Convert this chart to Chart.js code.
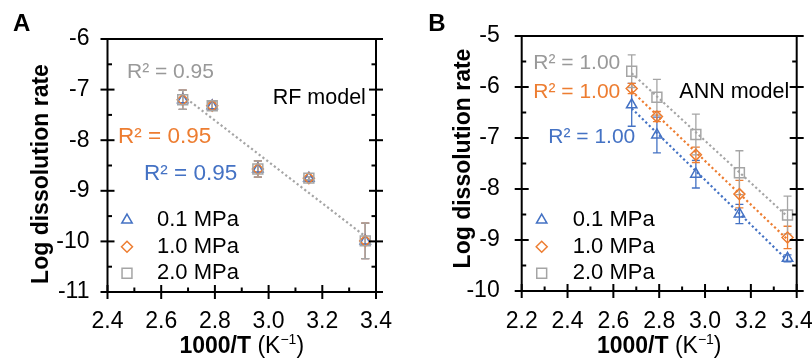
<!DOCTYPE html>
<html>
<head>
<meta charset="utf-8">
<script src="https://cdn.jsdelivr.net/npm/chart.js@4.4.1/dist/chart.umd.min.js"></script>
<style>
  html, body { margin: 0; padding: 0; background: #fff; }
  #wrap { position: relative; width: 812px; height: 361px; }
  .panel { position: absolute; top: 0; width: 406px; height: 361px; }
</style>
</head>
<body>
<div id="wrap">
  <div class="panel" style="left:0"><canvas id="chartA" width="406" height="361"></canvas></div>
  <div class="panel" style="left:406px"><canvas id="chartB" width="406" height="361"></canvas></div>
</div>
<script>
// 1000/T (K^-1) of the five temperatures
const invT = [2.68, 2.79, 2.96, 3.15, 3.36];
const seriesNames = ['0.1 MPa', '1.0 MPa', '2.0 MPa'];

// RF model: predictions for the three pressures coincide
const rfLow  = [-7.20, -7.32, -8.57, -8.75, -9.99];
const rfMid  = [-7.20, -7.32, -8.57, -8.75, -9.99];
const rfHigh = [-7.20, -7.32, -8.57, -8.75, -9.99];
const rfErr  = [0.19, 0.08, 0.16, 0.03, 0.35];
const rfFit  = [-7.12, -9.90];   // trend line at first / last 1000/T (same for all three)
const rfR2   = ['R\u00b2 = 0.95', 'R\u00b2 = 0.95', 'R\u00b2 = 0.95'];

// ANN model
const annLow     = [-6.35, -6.94, -7.71, -8.49, -9.36];
const annLowErr  = [0.42, 0.35, 0.27, 0.19, 0.07];
const annMid     = [-6.03, -6.58, -7.33, -8.10, -8.95];
const annMidErr  = [0.10, 0.10, 0.15, 0.27, 0.22];
const annHigh    = [-5.69, -6.20, -6.93, -7.68, -8.51];
const annHighErr = [0.32, 0.35, 0.40, 0.43, 0.37];
const annFitLow  = [-6.42, -9.40];
const annFitMid  = [-6.08, -8.99];
const annFitHigh = [-5.73, -8.54];
const annR2      = ['R\u00b2 = 1.00', 'R\u00b2 = 1.00', 'R\u00b2 = 1.00'];

const xTicksA = [2.4, 2.6, 2.8, 3.0, 3.2, 3.4];
const yTicksA = [-11, -10, -9, -8, -7, -6];
const xTicksB = [2.2, 2.4, 2.6, 2.8, 3.0, 3.2, 3.4];
const yTicksB = [-10, -9, -8, -7, -6, -5];

const FONT = "'Liberation Sans', Arial, Helvetica, sans-serif";
Chart.defaults.font.family = FONT;
Chart.defaults.color = '#000';

const BLUE = '#4472C4', ORANGE = '#ED7D31', GRAY = '#A5A5A5';
const styles = [
  { color: BLUE,   pointStyle: 'triangle', radius: 6,   order: 3 },
  { color: ORANGE, pointStyle: 'rectRot',  radius: 5.5, order: 2 },
  { color: GRAY,   pointStyle: 'rect',     radius: 7,   order: 1 }
];

const pts = ys => invT.map((x, i) => ({ x, y: ys[i] }));
const ends = f => [{ x: invT[0], y: f[0] }, { x: invT[invT.length - 1], y: f[1] }];

// fits: one [start, end] pair per series, or null where the line would only repeat another
function buildDatasets(values, errors, fits) {
  const marks = values.map((v, i) => ({
    label: seriesNames[i],
    data: pts(v),
    errors: errors[i],
    showLine: false,
    pointStyle: styles[i].pointStyle,
    pointRadius: styles[i].radius,
    pointHoverRadius: styles[i].radius,
    pointBorderWidth: 1.5,
    pointBorderColor: styles[i].color,
    borderColor: styles[i].color,
    pointBackgroundColor: 'rgba(0,0,0,0)',
    order: styles[i].order
  }));
  const lines = [];
  fits.forEach((f, i) => {
    if (!f) return;
    lines.push({
      label: seriesNames[i] + ' fit',
      data: ends(f),
      showLine: true,
      fill: false,
      pointRadius: 0,
      borderColor: styles[i].color,
      borderWidth: 2.2,
      borderDash: [2.2, 2.6],
      order: 9 - i
    });
  });
  return marks.concat(lines);
}

// error bars, box frame with crossing ticks, titles, notes and legend
const decor = {
  id: 'decor',
  beforeDatasetsDraw(chart) {
    const { ctx, scales: { x, y } } = chart;
    ctx.save();
    ctx.lineWidth = 1.3;
    chart.data.datasets.forEach(ds => {
      if (!ds.errors) return;
      ctx.strokeStyle = ds.borderColor;
      ds.data.forEach((p, i) => {
        const px = x.getPixelForValue(p.x);
        const t = y.getPixelForValue(p.y + ds.errors[i]);
        const b = y.getPixelForValue(p.y - ds.errors[i]);
        ctx.beginPath();
        ctx.moveTo(px, t); ctx.lineTo(px, b);
        ctx.moveTo(px - 4, t); ctx.lineTo(px + 4, t);
        ctx.moveTo(px - 4, b); ctx.lineTo(px + 4, b);
        ctx.stroke();
      });
    });
    ctx.restore();
  },
  afterDraw(chart, args, o) {
    const { ctx, chartArea: { left, right, top, bottom }, scales: { x, y } } = chart;
    const line = (x1, y1, x2, y2) => { ctx.beginPath(); ctx.moveTo(x1, y1); ctx.lineTo(x2, y2); ctx.stroke(); };
    ctx.save();
    ctx.strokeStyle = '#000';
    ctx.lineWidth = 2;
    ctx.strokeRect(left, top, right - left, bottom - top);

    const yt = y.ticks.map(t => t.value);
    yt.forEach((v, i) => {
      const py = y.getPixelForValue(v);
      line(left - 7, py, left + 7, py);
      line(right - 7, py, right + 7, py);
      if (i < yt.length - 1) {
        const pm = y.getPixelForValue((v + yt[i + 1]) / 2);
        line(left, pm, left + 4.5, pm);
        line(right - 4.5, pm, right, pm);
      }
    });
    const xt = x.ticks.map(t => t.value);
    xt.forEach((v, i) => {
      const px = x.getPixelForValue(v);
      line(px, bottom - 7, px, bottom + 7);
      if (i < xt.length - 1) {
        const pm = x.getPixelForValue((v + xt[i + 1]) / 2);
        line(pm, bottom - 4.5, pm, bottom);
      }
    });

    // panel letter
    ctx.fillStyle = '#000';
    ctx.textBaseline = 'alphabetic';
    ctx.textAlign = 'left';
    ctx.font = 'bold 24px ' + FONT;
    ctx.fillText(o.letter, o.letterX, 31);

    // x title: "1000/T (K-1)" with bold quantity and superscript exponent
    const parts = [
      { t: '1000/T', f: 'bold 23px ' + FONT, dy: 0 },
      { t: ' (K', f: '23px ' + FONT, dy: 0 },
      { t: '\u22121', f: '14px ' + FONT, dy: -9 },
      { t: ')', f: '23px ' + FONT, dy: 0 }
    ];
    let total = 0;
    parts.forEach(p => { ctx.font = p.f; p.w = ctx.measureText(p.t).width; total += p.w; });
    let cx = (left + right) / 2 - total / 2;
    parts.forEach(p => { ctx.font = p.f; ctx.fillText(p.t, cx, 353 + p.dy); cx += p.w; });

    // y title
    ctx.save();
    ctx.translate(o.yTitleX, o.yTitleY);
    ctx.rotate(-Math.PI / 2);
    ctx.textAlign = 'center';
    ctx.textBaseline = 'middle';
    ctx.font = 'bold 23px ' + FONT;
    ctx.fillText('Log dissolution rate', 0, 0);
    ctx.restore();

    // R² notes and model name
    ctx.textBaseline = 'middle';
    ctx.textAlign = 'left';
    o.notes.forEach(n => {
      ctx.font = n.size + 'px ' + FONT;
      ctx.fillStyle = n.color;
      ctx.fillText(n.text, n.x, n.y);
    });

    // legend
    const marks = chart.data.datasets.filter(ds => ds.errors);
    marks.forEach((ds, i) => {
      const ly = o.legendRows[i];
      ctx.strokeStyle = ds.borderColor;
      ctx.fillStyle = 'rgba(0,0,0,0)';
      ctx.lineWidth = 1.5;
      Chart.helpers.drawPoint(ctx, { pointStyle: ds.pointStyle, radius: ds.pointRadius, rotation: 0, borderWidth: 1.5 }, o.legendX, ly);
      ctx.fillStyle = '#000';
      ctx.font = '22px ' + FONT;
      ctx.fillText(ds.label, o.legendTextX, ly);
    });
    ctx.restore();
  }
};

function makePanel(id, p) {
  return new Chart(document.getElementById(id), {
    type: 'scatter',
    data: { datasets: p.datasets },
    plugins: [decor],
    options: {
      responsive: false,
      animation: false,
      events: [],
      layout: { padding: p.padding },
      plugins: {
        legend: { display: false },
        tooltip: { enabled: false },
        decor: p.decor
      },
      scales: {
        x: {
          type: 'linear', min: p.xTicks[0], max: p.xTicks[p.xTicks.length - 1],
          afterBuildTicks: s => { s.ticks = p.xTicks.map(v => ({ value: v })); },
          ticks: { callback: v => v.toFixed(1), font: { size: 23 }, padding: p.xPad, maxRotation: 0, autoSkip: false },
          grid: { display: false, drawTicks: false },
          border: { display: false },
          afterFit: s => { s.height = p.xHeight; s.paddingLeft = 0; s.paddingRight = 0; }
        },
        y: {
          type: 'linear', min: p.yTicks[0], max: p.yTicks[p.yTicks.length - 1],
          afterBuildTicks: s => { s.ticks = p.yTicks.map(v => ({ value: v })); },
          ticks: { callback: v => String(v), font: { size: 23 }, padding: p.yPad, autoSkip: false },
          grid: { display: false, drawTicks: false },
          border: { display: false },
          afterFit: s => { s.width = p.yWidth; s.paddingTop = 0; s.paddingBottom = 0; }
        }
      }
    }
  });
}

makePanel('chartA', {
  datasets: buildDatasets([rfLow, rfMid, rfHigh], [rfErr, rfErr, rfErr], [null, null, rfFit]),
  xTicks: xTicksA, yTicks: yTicksA,
  padding: { left: 0, right: 30, top: 39, bottom: 0 },
  yWidth: 107.5, xHeight: 69, xPad: 16, yPad: 18,
  decor: {
    letter: 'A', letterX: 13,
    yTitleX: 42, yTitleY: 174,
    legendX: 127, legendTextX: 157, legendRows: [220, 246.7, 273.3],
    notes: [
      { text: rfR2[2], color: '#999999', size: 21, x: 127, y: 72 },
      { text: rfR2[1], color: ORANGE, size: 22.5, x: 118, y: 137 },
      { text: rfR2[0], color: BLUE, size: 22.5, x: 144, y: 173.5 },
      { text: 'RF model', color: '#000', size: 21.5, x: 272.7, y: 98.5 }
    ]
  }
});

makePanel('chartB', {
  datasets: buildDatasets([annLow, annMid, annHigh], [annLowErr, annMidErr, annHighErr], [annFitLow, annFitMid, annFitHigh]),
  xTicks: xTicksB, yTicks: yTicksB,
  padding: { left: 0, right: 15.3, top: 36, bottom: 0 },
  yWidth: 115.7, xHeight: 70, xPad: 17, yPad: 22,
  decor: {
    letter: 'B', letterX: 22.3,
    yTitleX: 57.5, yTitleY: 158.5,
    legendX: 135.7, legendTextX: 166.7, legendRows: [220, 246.7, 273.3],
    notes: [
      { text: annR2[2], color: '#999999', size: 21, x: 127.3, y: 63.5 },
      { text: annR2[1], color: ORANGE, size: 21, x: 127.3, y: 92 },
      { text: annR2[0], color: BLUE, size: 21, x: 142.3, y: 137 },
      { text: 'ANN model', color: '#000', size: 21.5, x: 273.3, y: 92 }
    ]
  }
});
</script>
</body>
</html>
